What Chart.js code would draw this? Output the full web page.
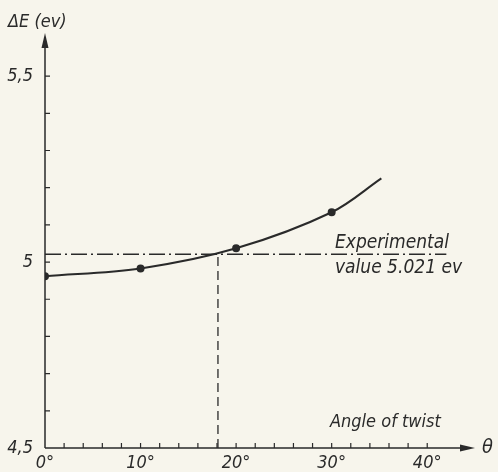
<!DOCTYPE html>
<html>
<head>
<meta charset="utf-8">
<script src="https://cdn.jsdelivr.net/npm/chart.js@4"></script>
<style>
  html, body { margin: 0; padding: 0; background: #f7f5ec; }
  #wrap { width: 498px; height: 472px; }
</style>
</head>
<body>
<div id="wrap"><canvas id="twistChart" width="498" height="472"></canvas></div>
<script>
// Values
const angles = [0, 10, 20, 30, 35.2];
const energies = [4.962, 4.983, 5.037, 5.134, 5.225];
const markedPoint = [true, true, true, true, false];
const expValue = 5.021;
const expAngle = 18.1;
const expLineEnd = 42;
const xTickLabels = { 0: '0°', 10: '10°', 20: '20°', 30: '30°', 40: '40°' };
const yTickLabels = { 45: '4,5', 50: '5', 55: '5,5' };

const ink = '#2a2a2a';
const font = "'DejaVu Sans Condensed', 'DejaVu Sans', sans-serif";

// axes with arrows, inward ticks and free text
const sketchAxes = {
    id: 'sketchAxes',
    afterDraw(chart) {
        const ctx = chart.ctx;
        const x = chart.scales.x, y = chart.scales.y;
        const left = x.getPixelForValue(0), bottom = y.getPixelForValue(4.5);
        const right = chart.chartArea.right, top = chart.chartArea.top;
        ctx.save();
        ctx.strokeStyle = ink;
        ctx.fillStyle = ink;
        ctx.lineWidth = 1.5;

        // axis lines
        ctx.beginPath();
        ctx.moveTo(left, bottom); ctx.lineTo(left, top + 6);
        ctx.moveTo(left, bottom); ctx.lineTo(right - 6, bottom);
        ctx.stroke();
        // arrow heads
        ctx.beginPath();
        ctx.moveTo(left, top); ctx.lineTo(left - 3.5, top + 15); ctx.lineTo(left + 3.5, top + 15);
        ctx.closePath(); ctx.fill();
        ctx.beginPath();
        ctx.moveTo(right, bottom); ctx.lineTo(right - 15, bottom - 3.5); ctx.lineTo(right - 15, bottom + 3.5);
        ctx.closePath(); ctx.fill();

        // inward ticks
        ctx.lineWidth = 1.2;
        ctx.beginPath();
        for (let v = 2; v <= 40; v += 2) {
            const px = x.getPixelForValue(v);
            ctx.moveTo(px, bottom); ctx.lineTo(px, bottom - 5);
        }
        for (let k = 46; k <= 55; k++) {
            const py = y.getPixelForValue(k / 10);
            ctx.moveTo(left, py); ctx.lineTo(left + 5, py);
        }
        ctx.stroke();

        // texts
        ctx.font = 'italic 18px ' + font;
        ctx.textBaseline = 'middle';
        ctx.textAlign = 'left';
        ctx.fillText('ΔE (ev)', 8, 22);
        ctx.fillText('Angle of twist', 330, 422);
        ctx.font = 'italic 20px ' + font;
        ctx.fillText('θ', 482, bottom);
        ctx.font = 'italic 19px ' + font;
        ctx.textBaseline = 'alphabetic';
        ctx.fillText('Experimental', 335, 248);
        ctx.fillText('value 5.021 ev', 335, 273);
        ctx.restore();
    }
};

new Chart(document.getElementById('twistChart'), {
    type: 'line',
    data: {
        datasets: [{
            label: 'ΔE',
            data: angles.map((a, i) => ({ x: a, y: energies[i] })),
            borderColor: ink,
            backgroundColor: ink,
            borderWidth: 2,
            tension: 0.35,
            pointRadius: markedPoint.map(m => m ? 3 : 0),
            fill: false
        }, {
            label: 'Experimental value',
            data: [{ x: 0, y: expValue }, { x: expLineEnd, y: expValue }],
            borderColor: ink,
            borderWidth: 1.3,
            borderDash: [16, 4, 2, 4],
            pointRadius: 0,
            fill: false
        }, {
            label: 'Angle at experimental value',
            data: [{ x: expAngle, y: 4.5 }, { x: expAngle, y: expValue }],
            borderColor: ink,
            borderWidth: 1.3,
            borderDash: [9, 5],
            pointRadius: 0,
            fill: false
        }]
    },
    options: {
        responsive: false,
        animation: false,
        layout: { padding: { top: 33, right: 23, left: 0, bottom: 0 } },
        plugins: {
            legend: { display: false },
            tooltip: { enabled: false }
        },
        scales: {
            x: {
                type: 'linear',
                min: 0,
                max: 45,
                grid: { display: false },
                border: { display: false },
                afterFit: s => { s.height = 24; },
                ticks: {
                    stepSize: 2,
                    autoSkip: false,
                    maxRotation: 0,
                    padding: -3,
                    color: ink,
                    font: { family: font, size: 18, style: 'italic' },
                    callback: v => xTickLabels[v] || ''
                }
            },
            y: {
                type: 'linear',
                min: 4.5,
                max: 5.616,
                grid: { display: false },
                border: { display: false },
                afterFit: s => { s.width = 45; },
                ticks: {
                    stepSize: 0.1,
                    autoSkip: false,
                    padding: 4,
                    color: ink,
                    font: { family: font, size: 18, style: 'italic' },
                    callback: v => yTickLabels[Math.round(v * 10)] || ''
                }
            }
        }
    },
    plugins: [sketchAxes]
});
</script>
</body>
</html>
